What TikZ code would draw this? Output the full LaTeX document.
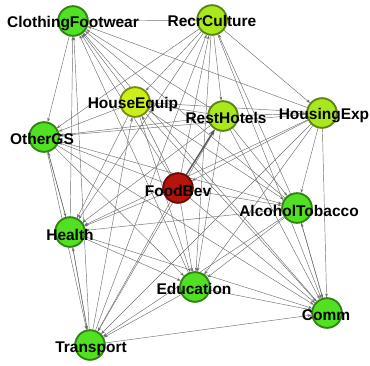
\documentclass[tikz,border=0pt]{standalone}
\usepackage{fontspec}
\setmainfont{Liberation Sans}
\usetikzlibrary{arrows.meta}
\definecolor{gfill}{HTML}{52E022}
\definecolor{gdraw}{HTML}{2E8512}
\definecolor{yfill}{HTML}{A8E81C}
\definecolor{ydraw}{HTML}{5C8410}
\definecolor{hfill}{HTML}{CBEF1A}
\definecolor{hdraw}{HTML}{7A8A12}
\definecolor{rfill}{HTML}{B5150C}
\definecolor{rdraw}{HTML}{6A0A04}
\definecolor{edgec}{HTML}{6E6E6E}
\tikzset{
  vtx/.style={circle,minimum size=29.5pt,inner sep=0pt,line width=1.7pt},
  gv/.style={vtx,fill=gfill,draw=gdraw},
  yv/.style={vtx,fill=yfill,draw=ydraw},
  hv/.style={vtx,fill=hfill,draw=hdraw},
  rv/.style={vtx,fill=rfill,draw=rdraw},
  lbl/.style={inner sep=0pt,font=\fontsize{15.5}{17}\selectfont\bfseries,text=black},
  edg/.style={draw=edgec,line width=0.45pt,-{Stealth[length=4pt,width=2.8pt]}},
  thick edg/.style={draw=gray!70!black,line width=1.4pt,-{Stealth[length=7pt,width=5pt]}}
}
\begin{document}
\begin{tikzpicture}[x=1pt,y=-1pt]
\useasboundingbox (0,0) rectangle (370,365);
% vertices
\node[gv] (CF) at (73,21) {};
\node[yv] (RC) at (212,20) {};
\node[hv] (HE) at (135,102) {};
\node[yv] (RH) at (223,116) {};
\node[yv] (HX) at (322,113) {};
\node[gv] (OG) at (44,137) {};
\node[rv] (FB) at (178,188) {};
\node[gv] (AT) at (297,208) {};
\node[gv] (HL) at (70,232) {};
\node[gv] (ED) at (195,287) {};
\node[gv] (CM) at (327,313) {};
\node[gv] (TR) at (90,345) {};
% edges
\foreach \s/\t in {RC/CF,HE/CF,RH/CF,HX/CF,CF/OG,FB/CF,AT/CF,HL/CF,ED/CF,CM/CF,TR/CF,
  RC/HE,RC/RH,RC/HX,RC/OG,FB/RC,AT/RC,RC/HL,RC/ED,RC/CM,TR/RC,
  HX/HE,HE/OG,FB/HE,HE/AT,HE/HL,HE/ED,HE/CM,TR/HE,RH/HE,
  RH/HX,RH/OG,RH/AT,RH/HL,RH/ED,RH/CM,RH/TR,
  HX/OG,HX/FB,HX/AT,HX/HL,HX/ED,HX/CM,HX/TR,
  FB/OG,OG/AT,OG/HL,HL/OG,OG/ED,OG/CM,OG/TR,
  FB/AT,FB/HL,FB/ED,FB/CM,FB/TR,
  AT/HL,AT/ED,CM/AT,AT/CM,AT/TR,
  HL/ED,HL/CM,HL/TR,TR/HL,
  ED/CM,ED/TR,TR/CM}
  {\draw[edg] (\s) -- (\t);}
\draw[thick edg] (FB) -- (RH);
% redraw vertices on top
\node[gv] at (CF) {};
\node[yv] at (RC) {};
\node[hv] at (HE) {};
\node[yv] at (RH) {};
\node[yv] at (HX) {};
\node[gv] at (OG) {};
\node[rv] at (FB) {};
\node[gv] at (AT) {};
\node[gv] at (HL) {};
\node[gv] at (ED) {};
\node[gv] at (CM) {};
\node[gv] at (TR) {};
% labels
\node[lbl] (lCF) at (73,24) {ClothingFootwear};
\node[lbl] (lRC) at (212,21) {RecrCulture};
\node[lbl] (lHE) at (133,104) {HouseEquip};
\node[lbl] (lRH) at (226,118) {RestHotels};
\node[lbl] (lHX) at (324,116) {HousingExp};
\node[lbl] (lOG) at (42,139) {OtherGS};
\node[lbl] (lFB) at (178,191) {FoodBev};
\node[lbl] (lAT) at (299,211) {AlcoholTobacco};
\node[lbl] (lHL) at (70,235) {Health};
\node[lbl] (lED) at (194,289) {Education};
\node[lbl] (lCM) at (326,315) {Comm};
\node[lbl] (lTR) at (91,349) {Transport};
\end{tikzpicture}
\end{document}
